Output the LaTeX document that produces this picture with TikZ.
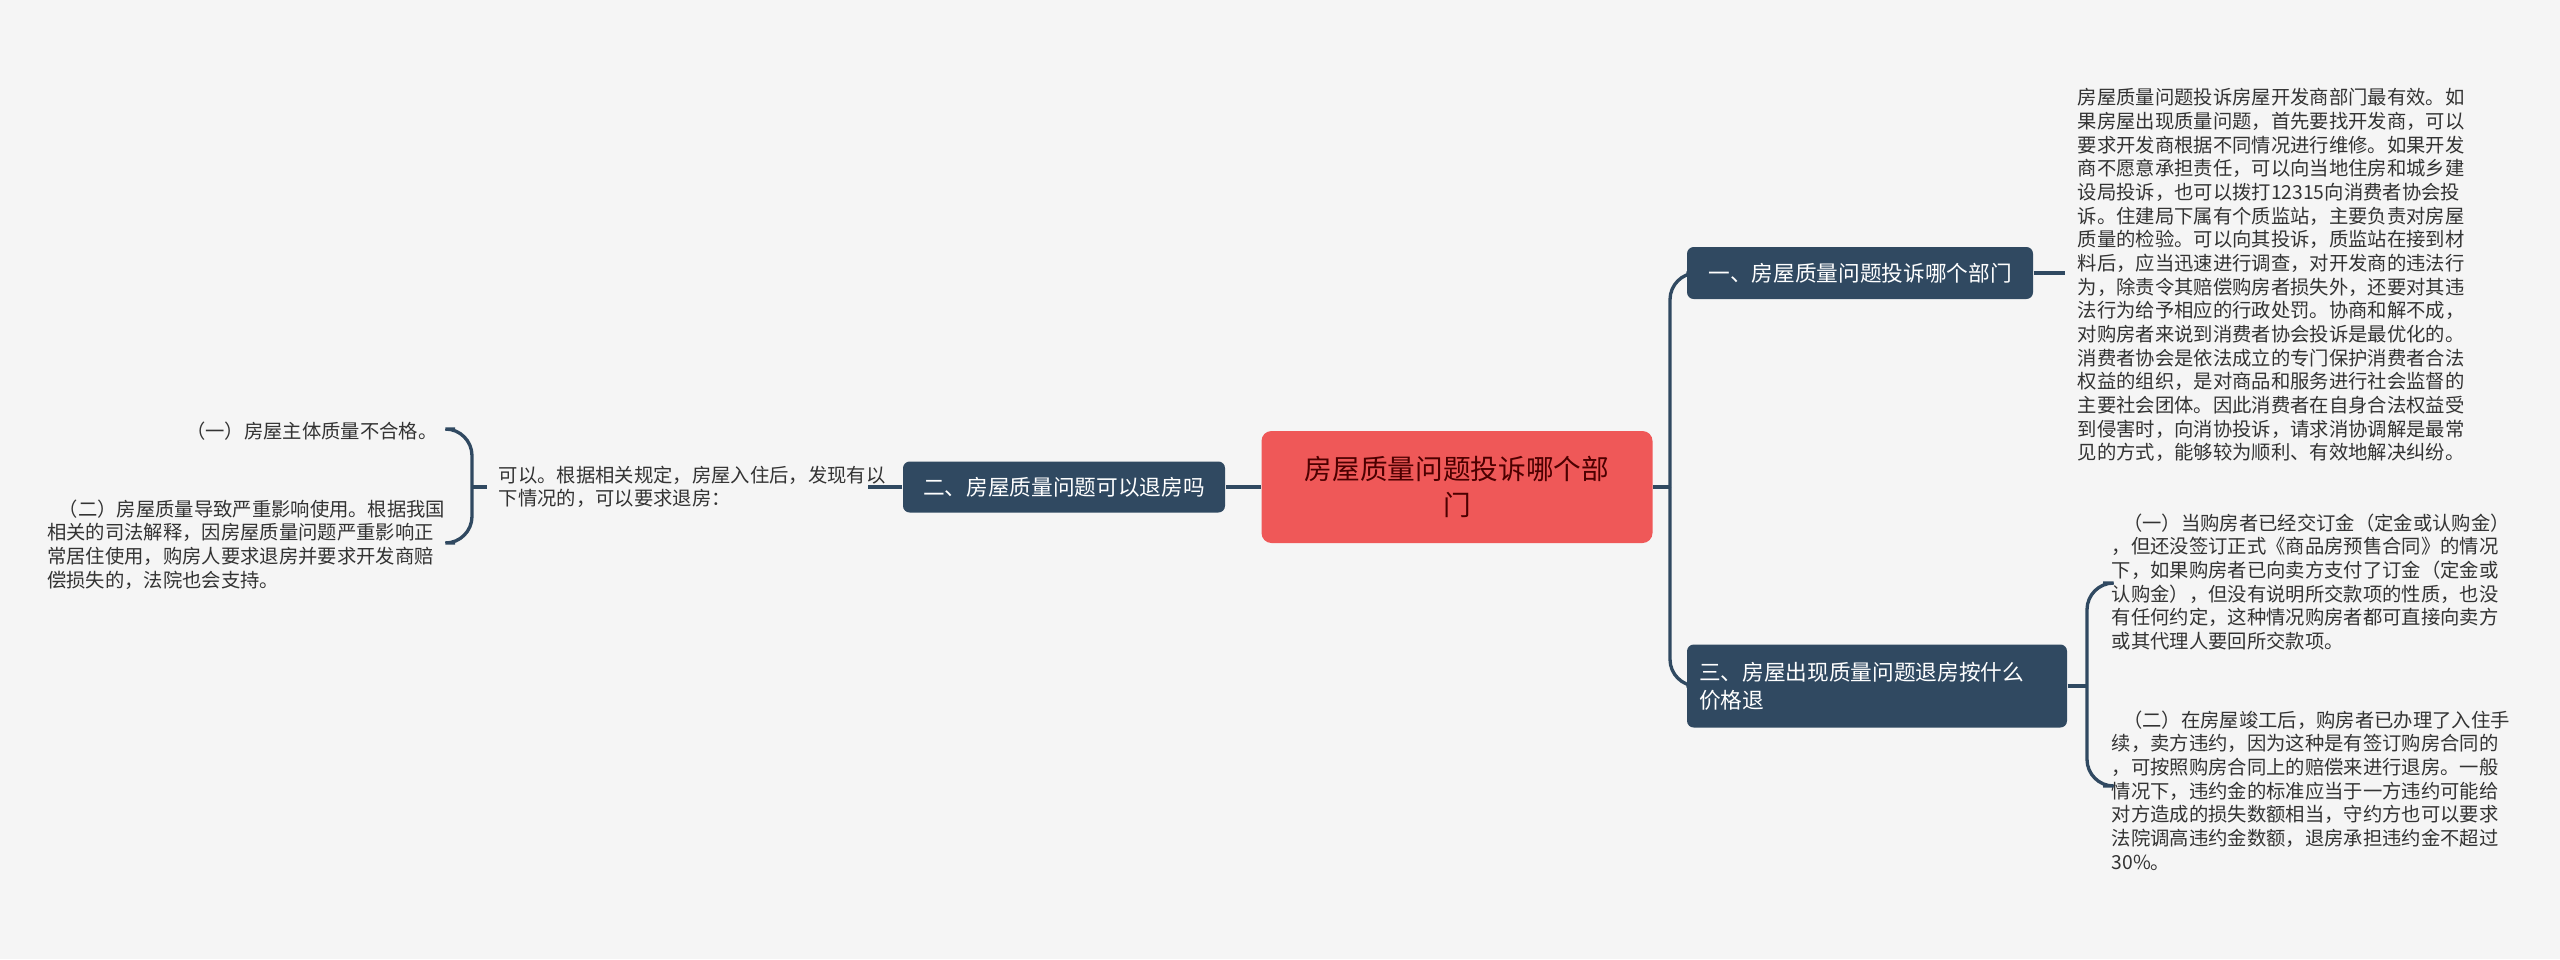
\documentclass[tikz,border=0pt]{standalone}
\usepackage{fontspec}
\setmainfont{Noto Sans CJK SC}
\begin{document}
\begin{tikzpicture}[x=0.3pt,y=-0.3pt,
  topic/.style={fill=navy,text=white,rounded corners=2pt,font=\fontsize{6.5pt}{8.3pt}\selectfont,inner sep=0pt},
  leaf/.style={inner sep=0pt,font=\fontsize{5.8pt}{7.1pt}\selectfont,text=txt},
  conn/.style={draw=navy,line width=1pt},
]
\definecolor{bgc}{HTML}{F5F5F5}
\definecolor{navy}{HTML}{304961}
\definecolor{redc}{HTML}{EF5858}
\definecolor{txt}{HTML}{333333}
\fill[bgc] (0,0) rectangle (2560,959);
\useasboundingbox (0,0) rectangle (2560,959);
% center
\node[fill=redc,rounded corners=3pt,minimum width=391*0.3pt,minimum height=112*0.3pt,align=center,text=red!30!black,font=\fontsize{8.3pt}{10.6pt}\selectfont,inner sep=0pt] (c) at (1457,487) {房屋质量问题投诉哪个部\\门};
% branches
\node[topic,minimum width=346*0.3pt,minimum height=52*0.3pt] (b1) at (1860,273) {一、房屋质量问题投诉哪个部门};
\node[topic,minimum width=322*0.3pt,minimum height=51*0.3pt] (b2) at (1064,487) {二、房屋质量问题可以退房吗};
\node[topic,minimum width=380*0.3pt,minimum height=83*0.3pt,align=left,text width=356*0.3pt] (b3) at (1877,686) {三、房屋出现质量问题退房按什么\\价格退};
% right leaves
\node[leaf,anchor=north west,align=left] (t1) at (2077,88) {房屋质量问题投诉房屋开发商部门最有效。如\\果房屋出现质量问题，首先要找开发商，可以\\要求开发商根据不同情况进行维修。如果开发\\商不愿意承担责任，可以向当地住房和城乡建\\设局投诉，也可以拨打12315向消费者协会投\\诉。住建局下属有个质监站，主要负责对房屋\\质量的检验。可以向其投诉，质监站在接到材\\料后，应当迅速进行调查，对开发商的违法行\\为，除责令其赔偿购房者损失外，还要对其违\\法行为给予相应的行政处罚。协商和解不成，\\对购房者来说到消费者协会投诉是最优化的。\\消费者协会是依法成立的专门保护消费者合法\\权益的组织，是对商品和服务进行社会监督的\\主要社会团体。因此消费者在自身合法权益受\\到侵害时，向消协投诉，请求消协调解是最常\\见的方式，能够较为顺利、有效地解决纠纷。};
\node[leaf,anchor=north west,align=left] (t3a) at (2111,513) {\hspace*{0.6em}（一）当购房者已经交订金（定金或认购金）\\，但还没签订正式《商品房预售合同》的情况\\下，如果购房者已向卖方支付了订金（定金或\\认购金），但没有说明所交款项的性质，也没\\有任何约定，这种情况购房者都可直接向卖方\\或其代理人要回所交款项。};
\node[leaf,anchor=north west,align=left] (t3b) at (2111,710) {\hspace*{0.6em}（二）在房屋竣工后，购房者已办理了入住手\\续，卖方违约，因为这种是有签订购房合同的\\，可按照购房合同上的赔偿来进行退房。一般\\情况下，违约金的标准应当于一方违约可能给\\对方造成的损失数额相当，守约方也可以要求\\法院调高违约金数额，退房承担违约金不超过\\30\%。};
% left leaves
\node[leaf,anchor=north west,align=left] (t2) at (498,465) {可以。根据相关规定，房屋入住后，发现有以\\下情况的，可以要求退房：};
\node[leaf,anchor=east] (l1) at (438,431) {（一）房屋主体质量不合格。};
\node[leaf,anchor=north east,align=left] (l2) at (446,499) {\hspace*{0.6em}（二）房屋质量导致严重影响使用。根据我国\\相关的司法解释，因房屋质量问题严重影响正\\常居住使用，购房人要求退房并要求开发商赔\\偿损失的，法院也会支持。};
% connectors
\coordinate (j1) at (1670,487);
\draw[conn] (c.east) -- (j1);
\draw[conn,rounded corners=8pt] (j1) |- (b1.west);
\draw[conn,rounded corners=8pt] (j1) |- (b3.west);
\draw[conn] (b1.east) -- (2065,273);
\draw[conn] (c.west) -- (b2.east);
\draw[conn] (b2.west) -- (868,487);
% brace right
\coordinate (k3) at (2087,686);
\draw[conn] (b3.east) -- (k3);
\draw[conn,rounded corners=8pt] (2103,583) -- (k3 |- 0,583) -- (k3 |- 0,786) -- (2103,786);
% brace left
\coordinate (k2) at (472,487);
\draw[conn] (k2) -- (487,487);
\draw[conn,rounded corners=8pt] (455,429) -- (k2 |- 0,429) -- (k2 |- 0,543) -- (455,543);
\end{tikzpicture}
\end{document}
